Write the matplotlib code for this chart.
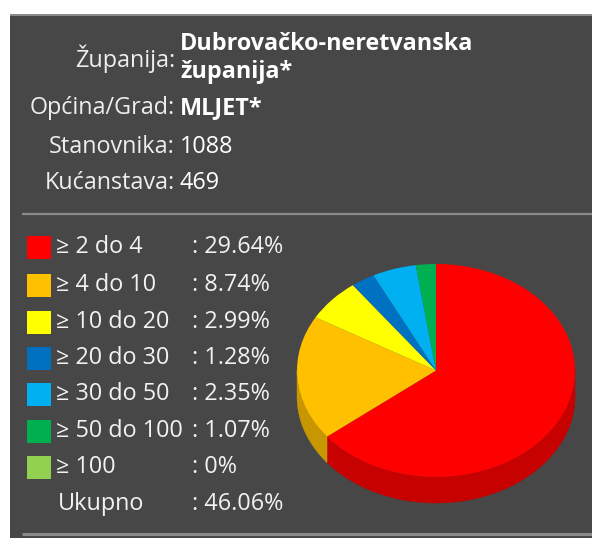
import matplotlib
matplotlib.use('Agg')
import matplotlib.pyplot as plt
import numpy as np
from matplotlib.patches import Polygon, Rectangle
from matplotlib.colors import to_rgb

W, H = 592, 538

# ---- data ----
info_labels = ['Županija:', 'Općina/Grad:', 'Stanovnika:', 'Kućanstava:']
info_values = ['Dubrovačko-neretvanska\nžupanija*', 'MLJET*', '1088', '469']
categories = ['≥ 2 do 4', '≥ 4 do 10', '≥ 10 do 20', '≥ 20 do 30',
              '≥ 30 do 50', '≥ 50 do 100', '≥ 100']
values = [29.64, 8.74, 2.99, 1.28, 2.35, 1.07, 0.0]
value_labels = ['29.64%', '8.74%', '2.99%', '1.28%', '2.35%', '1.07%', '0%']
total_name = 'Ukupno'
total_label = '46.06%'
colors = ['#ff0000', '#ffc000', '#ffff00', '#0070c0', '#00b0f0', '#00b050', '#92d050']

BG = '#474747'
FAM = ['Open Sans', 'DejaVu Sans']
FS = 16.8

fig = plt.figure(figsize=(W / 100, H / 100), dpi=100)
fig.patch.set_facecolor('white')

bg = fig.add_axes([0, 0, 1, 1])
bg.set_xlim(0, W)
bg.set_ylim(H, 0)
bg.axis('off')
bg.add_patch(Rectangle((10, 14), W + 10, H, facecolor=BG, edgecolor='none', clip_on=False))
bg.plot([10, W + 5], [14.5, 14.5], color='#8c8c8c', lw=1.4, solid_capstyle='butt', clip_on=False)
bg.plot([22, W + 5], [214, 214], color='#8a8a8a', lw=1.6, solid_capstyle='butt', clip_on=False)
bg.plot([22, W + 5], [533.5, 533.5], color='#8a8a8a', lw=2.2, solid_capstyle='butt', clip_on=False)

# header info
lab_x, val_x = 175, 180
info_y = [59, 108, 147, 183]
for i, (lab, val, y) in enumerate(zip(info_labels, info_values, info_y)):
    bg.text(lab_x, y, lab, ha='right', va='center', color='#eeeeee',
            fontsize=FS, family=FAM)
    bold = i < 2
    if '\n' in val:
        lines = val.split('\n')
        bg.text(val_x, 44, lines[0], ha='left', va='center', color='white',
                fontsize=FS, family=FAM, fontweight='bold')
        bg.text(val_x, 72, lines[1], ha='left', va='center', color='white',
                fontsize=FS, family=FAM, fontweight='bold')
    else:
        bg.text(val_x, y, val, ha='left', va='center', color='white',
                fontsize=FS, family=FAM, fontweight='bold' if bold else 'normal')

# legend
row_y = [247, 285, 322, 358, 394, 431, 467, 504]
for i, (cat, vl, c) in enumerate(zip(categories, value_labels, colors)):
    y = row_y[i]
    bg.add_patch(Rectangle((27, y - 11.5), 24, 23, facecolor=c, edgecolor='none'))
    bg.text(56.5, y, cat, ha='left', va='center', color='#f2f2f2', fontsize=FS, family=FAM)
    bg.text(191.5, y, ': ' + vl, ha='left', va='center', color='#f2f2f2', fontsize=FS, family=FAM)
bg.text(58, row_y[-1], total_name, ha='left', va='center', color='#f2f2f2', fontsize=FS, family=FAM)
bg.text(191.5, row_y[-1], ': ' + total_label, ha='left', va='center', color='#f2f2f2', fontsize=FS, family=FAM)

# pie
cx, cy, rx, ry, depth_px = 436, 370.5, 139, 106.5, 26
L, R, T, B = 286, 588, 250, 522
pax = fig.add_axes([L / W, (H - B) / H, (R - L) / W, (B - T) / H])
wedges, _ = pax.pie(values, colors=colors, startangle=90, counterclock=False,
                    wedgeprops=dict(linewidth=0, antialiased=True))
pax.set_aspect('auto')
pax.set_xlim((L - cx) / rx, (R - cx) / rx)
pax.set_ylim((cy - B) / ry, (cy - T) / ry)
pax.axis('off')
d = depth_px / ry
for w, c in zip(wedges, colors):
    dark = tuple(np.array(to_rgb(c)) * 0.78)
    for lo, hi in [(-180, 0), (180, 360), (-540, -360)]:
        a = max(w.theta1, lo)
        b = min(w.theta2, hi)
        if b > a:
            t = np.radians(np.linspace(a, b, 100))
            top = np.column_stack([np.cos(t), np.sin(t)])
            bot = np.column_stack([np.cos(t), np.sin(t) - d])[::-1]
            pax.add_patch(Polygon(np.vstack([top, bot]), closed=True,
                                  facecolor=dark, edgecolor=dark, lw=0.3, zorder=0))
for w in wedges:
    w.set_zorder(2)

fig.savefig('out.png', dpi=100, facecolor='white')
